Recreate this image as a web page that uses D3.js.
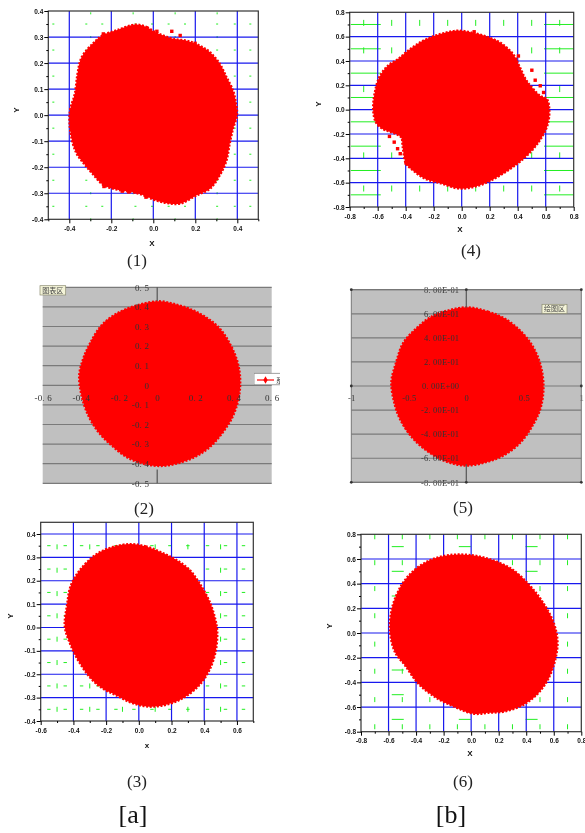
<!DOCTYPE html>
<html>
<head>
<meta charset="utf-8">
<style>
html, body { margin: 0; padding: 0; background: #fff; }
svg { display: block; filter: blur(0.35px); }
</style>
<script src="https://cdn.jsdelivr.net/npm/d3@7"></script>
</head>
<body>
<div id="chart"></div>
<script>
// outlines of the red point clouds, [x, y]
var cloud1 = [[-.085,.348],[-.03,.338],[.01,.318],[.049,.306],[.096,.293],[.159,.286],[.222,.267],[.27,.242],[.317,.197],[.349,.146],[.38,.095],[.393,.05],[.399,0],[.38,-.052],[.364,-.11],[.349,-.174],[.317,-.231],[.27,-.283],[.207,-.308],[.128,-.34],[.065,-.338],[.009,-.327],[-.046,-.308],[-.101,-.295],[-.156,-.289],[-.235,-.27],[-.29,-.225],[-.33,-.187],[-.369,-.142],[-.396,-.059],[-.397,.018],[-.374,.082],[-.361,.159],[-.341,.223],[-.282,.28],[-.243,.306],[-.172,.327]];
var stray1 = [[.088,.322],[.128,.306],[.017,.322],[.199,.276],[-.235,-.274],[-.148,-.292],[-.117,-.295],[-.085,-.295],[-.035,-.315],[-.238,.312]];

var cloud4 = [[-.026,.65],[.082,.631],[.189,.596],[.285,.544],[.369,.454],[.417,.346],[.465,.237],[.561,.114],[.609,.087],[.626,.005],[.616,-.117],[.573,-.226],[.513,-.321],[.429,-.416],[.333,-.498],[.213,-.58],[.094,-.634],[-.026,-.648],[-.146,-.607],[-.266,-.566],[-.35,-.498],[-.398,-.444],[-.422,-.307],[-.434,-.226],[-.506,-.185],[-.566,-.158],[-.614,-.103],[-.633,.005],[-.621,.141],[-.59,.264],[-.53,.359],[-.458,.414],[-.386,.482],[-.302,.55],[-.218,.596],[-.122,.631]];
var stray4 = [[.501,.324],[.525,.242],[.561,.196],[.585,.141],[.405,.441],[.386,.405],[.089,.64],[-.542,-.15],[-.516,-.22],[-.482,-.267],[-.458,-.321],[-.439,-.362],[-.398,-.438]];

var cloud2 = [[.01,.429],[.101,.412],[.189,.383],[.267,.34],[.329,.289],[.381,.213],[.416,.136],[.434,.051],[.43,-.051],[.399,-.153],[.346,-.238],[.276,-.315],[.198,-.366],[.101,-.4],[.014,-.412],[-.073,-.4],[-.161,-.366],[-.24,-.306],[-.309,-.238],[-.362,-.153],[-.397,-.051],[-.409,.051],[-.388,.136],[-.353,.213],[-.292,.306],[-.213,.366],[-.108,.408]];
var cloud5 = [[.014,.654],[.188,.618],[.333,.562],[.478,.452],[.58,.327],[.646,.175],[.672,-.006],[.646,-.186],[.58,-.324],[.478,-.463],[.333,-.573],[.188,-.629],[0,-.662],[-.174,-.629],[-.333,-.546],[-.478,-.421],[-.58,-.269],[-.629,-.13],[-.652,.036],[-.609,.202],[-.551,.355],[-.435,.479],[-.304,.576],[-.145,.632]];

var cloud3 = [[-.049,.357],[.043,.347],[.146,.319],[.228,.29],[.31,.247],[.371,.19],[.433,.111],[.464,.047],[.48,-.017],[.47,-.103],[.433,-.181],[.371,-.246],[.269,-.303],[.166,-.331],[.064,-.339],[-.039,-.324],[-.142,-.289],[-.224,-.26],[-.295,-.217],[-.367,-.146],[-.418,-.074],[-.453,.004],[-.439,.097],[-.418,.176],[-.367,.24],[-.265,.311],[-.162,.344]];
var cloud6 = [[-.165,.631],[.005,.631],[.15,.593],[.296,.518],[.417,.396],[.514,.261],[.599,.086],[.628,-.089],[.587,-.305],[.514,-.453],[.393,-.574],[.247,-.636],[.126,-.647],[.017,-.655],[-.116,-.601],[-.262,-.52],[-.383,-.412],[-.48,-.264],[-.553,-.156],[-.589,.005],[-.577,.194],[-.516,.369],[-.432,.491],[-.31,.585]];

// tick values
var ticks1X = [-.4,-.2,0,.2,.4], minor1X = [-.5,-.3,-.1,.1,.3,.5];
var ticks1Y = [-.4,-.3,-.2,-.1,0,.1,.2,.3,.4], minor1Y = [-.35,-.25,-.15,-.05,.05,.15,.25,.35];
var ticks4 = [-.8,-.6,-.4,-.2,0,.2,.4,.6,.8], minor4 = [-.7,-.5,-.3,-.1,.1,.3,.5,.7];
var ticks3X = [-.6,-.4,-.2,0,.2,.4,.6], minor3X = [-.5,-.3,-.1,.1,.3,.5,.7];
var ticks3Y = [-.4,-.3,-.2,-.1,0,.1,.2,.3,.4], minor3Y = [-.35,-.25,-.15,-.05,.05,.15,.25,.35];

var ticks2X = [-.6,-.4,-.2,0,.2,.4,.6];
var ticks2Y = [-.5,-.4,-.3,-.2,-.1,0,.1,.2,.3,.4,.5];
var ticks5X = [-1,-.5,0,.5,1];
var ticks5Y = [-.8,-.6,-.4,-.2,0,.2,.4,.6,.8];
var labels5Y = ['-8. 00E-01','-6. 00E-01','-4. 00E-01','-2. 00E-01','0. 00E+00','2. 00E-01','4. 00E-01','6. 00E-01','8. 00E-01'];

// what is left of the green minor grid
var green1VX = [-.298,-.096,.104,.304], green1VY = [.391,.3,.2,.1,0,-.1,-.2,-.3,-.4];
var green1HY = [.35,.25,.15,.05,-.05,-.15,-.25,-.35], green1HX = [-.476,-.319,-.243,-.085,-.006,.073,.151,.304,.388,.462];
var green4VX = minor4, green4VY = [.713,.487,.169,-.376,-.648];
var green4HY = minor4, green4HX = [-.685,.695];
var green3VX = [-.5,-.3,-.1,.1,.3,.5], green3VY = [.345,.245,.145,.05,-.05,-.15,-.25,-.35];
var green3HY = minor3Y, green3HX = [-.55,-.45,-.35,-.25,-.14,-.03,.08,.19,.3,.42,.53,.64];
var green6VX = minor4, green6VY = [.78,.57,.36,.14,-.09,-.31,-.54,-.76];
var green6HY = [.7,.5,.3,-.3,-.5,-.7], green6HX = [-.533,-.046,.439];

var captions = ['(1)','(2)','(3)','(4)','(5)','(6)'];
var columnLabels = ['[a]','[b]'];

var svg = d3.select('#chart').append('svg')
    .attr('width', 585)
    .attr('height', 833)
    .attr('viewBox', '0 0 585 833');

var fmt = function(d) { return d3.format('.1f')(d).replace('\u2212', '-'); };
var outline = d3.line().curve(d3.curveCatmullRomClosed);

// the dashed stroke leaves a pixel rough edge like the dense points do
function drawCloud(g, x, y, pts) {
    g.append('path')
        .datum(pts.map(function(d) { return [x(d[0]), y(d[1])]; }))
        .attr('d', outline)
        .attr('fill', '#ff0000')
        .attr('stroke', '#ff0000')
        .attr('stroke-width', 2.2)
        .attr('stroke-dasharray', '2 1.6');
}

// origin style panel: white plot, blue major grid, green bits, bold axes
function originPanel(p) {
    var g = svg.append('g');
    var x = d3.scaleLinear().domain(p.xDomain).range([p.left, p.right]);
    var y = d3.scaleLinear().domain(p.yDomain).range([p.bottom, p.top]);

    p.greenVX.forEach(function(vx) {
        g.selectAll(null).data(p.greenVY).enter().append('line')
            .attr('x1', x(vx)).attr('x2', x(vx))
            .attr('y1', function(d) { return Math.max(y(d) - p.greenVLen, p.top); })
            .attr('y2', function(d) { return y(d) + p.greenVLen; })
            .attr('stroke', '#22ee22').attr('stroke-width', 1);
    });
    p.greenHY.forEach(function(hy) {
        g.selectAll(null).data(p.greenHX).enter().append('line')
            .attr('y1', y(hy)).attr('y2', y(hy))
            .attr('x1', function(d) { return Math.max(x(d) - p.greenHLen, p.left); })
            .attr('x2', function(d) { return Math.min(x(d) + p.greenHLen, p.right); })
            .attr('stroke', '#22ee22').attr('stroke-width', 1);
    });

    g.selectAll(null).data(p.xTicks.filter(function(d) { return d > p.xDomain[0] && d < p.xDomain[1]; })).enter().append('line')
        .attr('x1', x).attr('x2', x).attr('y1', p.top).attr('y2', p.bottom)
        .attr('stroke', '#1818ee').attr('stroke-width', 1.2);
    g.selectAll(null).data(p.yTicks.filter(function(d) { return d > p.yDomain[0] && d < p.yDomain[1]; })).enter().append('line')
        .attr('y1', y).attr('y2', y).attr('x1', p.left).attr('x2', p.right)
        .attr('stroke', '#1818ee').attr('stroke-width', 1.2);

    drawCloud(g, x, y, p.cloud);
    g.selectAll(null).data(p.stray || []).enter().append('rect')
        .attr('x', function(d) { return x(d[0]) - 1.7; })
        .attr('y', function(d) { return y(d[1]) - 1.7; })
        .attr('width', 3.4).attr('height', 3.4)
        .attr('fill', '#ff0000');

    g.append('rect')
        .attr('x', p.left).attr('y', p.top)
        .attr('width', p.right - p.left).attr('height', p.bottom - p.top)
        .attr('fill', 'none').attr('stroke', '#333').attr('stroke-width', 1.2);

    var ax = g.append('g').attr('transform', 'translate(0,' + p.bottom + ')');
    ax.call(d3.axisBottom(x).tickValues(p.xMinor).tickSize(2).tickFormat(''));
    ax.call(function(s) { s.selectAll('.domain').remove(); });
    var ax2 = g.append('g').attr('transform', 'translate(0,' + p.bottom + ')')
        .call(d3.axisBottom(x).tickValues(p.xTicks).tickSize(4).tickPadding(3).tickFormat(fmt));
    ax2.select('.domain').remove();

    var ay = g.append('g').attr('transform', 'translate(' + p.left + ',0)');
    ay.call(d3.axisLeft(y).tickValues(p.yMinor).tickSize(2).tickFormat(''));
    ay.select('.domain').remove();
    var ay2 = g.append('g').attr('transform', 'translate(' + p.left + ',0)')
        .call(d3.axisLeft(y).tickValues(p.yTicks).tickSize(4).tickPadding(1).tickFormat(fmt));
    ay2.select('.domain').remove();

    g.selectAll('.tick text')
        .attr('font-family', 'Liberation Sans')
        .attr('font-size', 6.5)
        .attr('font-weight', 'bold')
        .attr('fill', '#111');

    g.append('text').text(p.xLabel)
        .attr('x', p.xLabelPos[0]).attr('y', p.xLabelPos[1])
        .attr('text-anchor', 'middle').attr('dominant-baseline', 'middle')
        .attr('font-family', 'Liberation Sans').attr('font-size', p.xLabelSize || 8).attr('font-weight', 'bold').attr('fill', '#111');
    g.append('text').text('Y')
        .attr('transform', 'translate(' + p.yLabelPos[0] + ',' + p.yLabelPos[1] + ') rotate(-90)')
        .attr('text-anchor', 'middle').attr('dominant-baseline', 'middle')
        .attr('font-family', 'Liberation Sans').attr('font-size', 8).attr('font-weight', 'bold').attr('fill', '#111');
}

// spreadsheet style panel: gray plot, gray rules, axes crossing at zero
function sheetPanel(p) {
    var g = svg.append('g');
    var x = d3.scaleLinear().domain(p.xDomain).range([p.left, p.right]);
    var y = d3.scaleLinear().domain(p.yDomain).range([p.bottom, p.top]);

    g.append('rect')
        .attr('x', p.left).attr('y', p.top)
        .attr('width', p.right - p.left).attr('height', p.bottom - p.top)
        .attr('fill', '#c0c0c0');
    g.selectAll(null).data(p.yTicks).enter().append('line')
        .attr('x1', p.left).attr('x2', p.right)
        .attr('y1', y).attr('y2', y)
        .attr('stroke', '#7a7a7a').attr('stroke-width', 1.2);

    drawCloud(g, x, y, p.cloud);

    var ax = g.append('g').attr('transform', 'translate(0,' + y(0) + ')')
        .call(d3.axisBottom(x).tickValues(p.xTicks).tickSize(0).tickPadding(p.xPad).tickFormat(p.xFormat));
    ax.select('.domain').remove();
    var ay = g.append('g').attr('transform', 'translate(' + x(0) + ',0)')
        .call(d3.axisLeft(y).tickValues(p.yTicks).tickSize(0).tickPadding(p.yPad).tickFormat(p.yFormat));
    ay.select('.domain').remove();
    g.append('line')
        .attr('x1', x(0)).attr('x2', x(0)).attr('y1', p.top).attr('y2', y(p.axisStop))
        .attr('stroke', '#555').attr('stroke-width', 1.2);
    g.append('line')
        .attr('x1', x(0)).attr('x2', x(0)).attr('y1', y(-p.axisStop)).attr('y2', p.bottom)
        .attr('stroke', '#555').attr('stroke-width', 1.2);

    g.selectAll('.tick text')
        .attr('font-family', 'Liberation Serif')
        .attr('font-size', p.fontSize)
        .attr('letter-spacing', 0.2)
        .attr('fill', '#333');
    return {g: g, x: x, y: y};
}

function tipBox(label, bx, by, bw, bh) {
    svg.append('rect')
        .attr('x', bx).attr('y', by).attr('width', bw).attr('height', bh)
        .attr('fill', '#f4f4d8').attr('stroke', '#8a8a70').attr('stroke-width', 0.7);
    svg.append('text').text(label)
        .attr('x', bx + bw / 2).attr('y', by + bh / 2 + 0.5)
        .attr('text-anchor', 'middle').attr('dominant-baseline', 'middle')
        .attr('font-family', 'Noto Sans CJK SC').attr('font-size', 7).attr('fill', '#444');
}

originPanel({
    left: 48.3, right: 258.3, top: 11, bottom: 219.3,
    xDomain: [-.5, .5], yDomain: [-.4, .4],
    xTicks: ticks1X, xMinor: minor1X, yTicks: ticks1Y, yMinor: minor1Y,
    greenVX: green1VX, greenVY: green1VY, greenVLen: 1,
    greenHY: green1HY, greenHX: green1HX, greenHLen: 1,
    cloud: cloud1, stray: stray1,
    xLabel: 'X', xLabelPos: [152, 244], yLabelPos: [17, 110]
});
originPanel({
    left: 349.7, right: 573.7, top: 12.3, bottom: 207,
    xDomain: [-.8, .8], yDomain: [-.8, .8],
    xTicks: ticks4, xMinor: minor4, yTicks: ticks4, yMinor: minor4,
    greenVX: green4VX, greenVY: green4VY, greenVLen: 3,
    greenHY: green4HY, greenHX: green4HX, greenHLen: 15,
    cloud: cloud4, stray: stray4,
    xLabel: 'X', xLabelPos: [460, 230], yLabelPos: [319, 104]
});
originPanel({
    left: 40.7, right: 253.3, top: 522.3, bottom: 721,
    xDomain: [-.6, .7], yDomain: [-.4, .45],
    xTicks: ticks3X, xMinor: minor3X, yTicks: ticks3Y, yMinor: minor3Y,
    greenVX: green3VX, greenVY: green3VY, greenVLen: 2.5,
    greenHY: green3HY, greenHX: green3HX, greenHLen: 1.7,
    cloud: cloud3,
    xLabel: 'x', xLabelPos: [147, 746], yLabelPos: [11, 616]
});
originPanel({
    left: 361, right: 581.3, top: 534.3, bottom: 731.7,
    xDomain: [-.8, .8], yDomain: [-.8, .8],
    xTicks: ticks4, xMinor: minor4, yTicks: ticks4, yMinor: minor4,
    greenVX: green6VX, greenVY: green6VY, greenVLen: 2.5,
    greenHY: green6HY, greenHX: green6HX, greenHLen: 6,
    cloud: cloud6,
    xLabel: 'X', xLabelPos: [470, 754], yLabelPos: [330, 626]
});

var spaced = function(d) { return d3.format('.1f')(d).replace('\u2212', '-').replace('.', '. ').replace(/^(-?)0\. 0$/, '0'); };
sheetPanel({
    left: 42.7, right: 271.7, top: 287.3, bottom: 483.3,
    xDomain: [-.6, .6], yDomain: [-.5, .5],
    xTicks: ticks2X, yTicks: ticks2Y, xFormat: spaced, yFormat: spaced,
    xPad: 9, yPad: 8, fontSize: 9, axisStop: .43, cloud: cloud2
});
var p5 = sheetPanel({
    left: 351.3, right: 581.3, top: 289.7, bottom: 482.3,
    xDomain: [-1, 1], yDomain: [-.8, .8],
    xTicks: ticks5X, yTicks: ticks5Y,
    xFormat: function(d) { return String(d).replace('\u2212', '-'); },
    yFormat: function(d, i) { return labels5Y[i]; },
    xPad: 9, yPad: 7, fontSize: 8.5, axisStop: .65, cloud: cloud5
});

// frame and grab handles of the selected plot area in (5)
p5.g.append('rect')
    .attr('x', 351.3).attr('y', 289.7).attr('width', 230).attr('height', 192.6)
    .attr('fill', 'none').attr('stroke', '#777').attr('stroke-width', 1);
[[-1,.8],[0,.8],[1,.8],[-1,0],[1,0],[-1,-.8],[0,-.8],[1,-.8]].forEach(function(d) {
    p5.g.append('circle')
        .attr('cx', p5.x(d[0])).attr('cy', p5.y(d[1])).attr('r', 1.4)
        .attr('fill', '#333');
});

tipBox('图表区', 40, 285.7, 25.7, 9.3);
tipBox('绘图区', 542, 304.3, 25, 9);

// legend of (2), cut off at the edge of the screenshot
svg.append('clipPath').attr('id', 'legend-clip').append('rect')
    .attr('x', 254).attr('y', 370).attr('width', 26).attr('height', 18);
var legend = svg.append('g').attr('clip-path', 'url(#legend-clip)');
legend.append('rect')
    .attr('x', 254).attr('y', 373.3).attr('width', 34).attr('height', 11.5)
    .attr('fill', '#fff').attr('stroke', '#888').attr('stroke-width', 0.8);
legend.append('line')
    .attr('x1', 257).attr('x2', 274).attr('y1', 380).attr('y2', 380)
    .attr('stroke', '#ff0000').attr('stroke-width', 1.2);
legend.append('path')
    .attr('d', d3.symbol().type(d3.symbolDiamond).size(16))
    .attr('transform', 'translate(265.5,380)')
    .attr('fill', '#ff0000');
legend.append('text').text('系列1')
    .attr('x', 276).attr('y', 382.5)
    .attr('font-family', 'Noto Sans CJK SC').attr('font-size', 7).attr('fill', '#333');

// captions
var capPos = [[137,262],[144,510],[137,783],[471,252],[463,509],[463,783]];
svg.selectAll('.caption').data(captions).enter().append('text')
    .attr('class', 'caption')
    .attr('x', function(d, i) { return capPos[i][0]; })
    .attr('y', function(d, i) { return capPos[i][1]; })
    .attr('text-anchor', 'middle').attr('dominant-baseline', 'middle')
    .attr('font-family', 'Liberation Serif').attr('font-size', 17).attr('fill', '#222')
    .text(function(d) { return d; });
var colPos = [[133,817],[451,817]];
svg.selectAll('.column').data(columnLabels).enter().append('text')
    .attr('class', 'column')
    .attr('x', function(d, i) { return colPos[i][0]; })
    .attr('y', function(d, i) { return colPos[i][1]; })
    .attr('text-anchor', 'middle').attr('dominant-baseline', 'middle')
    .attr('font-family', 'Liberation Serif').attr('font-size', 26).attr('fill', '#111')
    .text(function(d) { return d; });
</script>
</body>
</html>
